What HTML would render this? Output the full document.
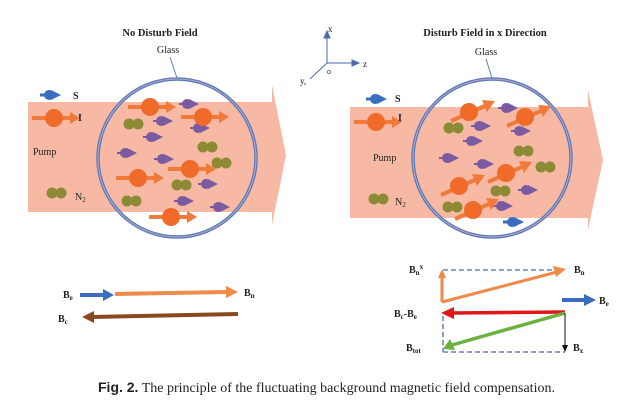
<!DOCTYPE html>
<html><head><meta charset="utf-8"><style>
html,body{margin:0;padding:0;background:#fff;width:627px;height:403px;overflow:hidden}
svg{display:block}
text{font-family:"Liberation Serif",serif;fill:#222}
</style></head><body>
<svg width="627" height="403" viewBox="0 0 627 403" xmlns="http://www.w3.org/2000/svg">
<defs>
<g id="pu"><path d="M-9,-1 L-4,-1 L-4,1 L-9,1Z" fill="#7a5aa0"/><circle cx="-1" cy="0" r="5" fill="#7a5aa0"/><path d="M1,-5 L11,0 L1,5Z" fill="#7a5aa0"/></g>
<g id="bl"><path d="M-10,-1.5 L-4,-1.5 L-4,1.5 L-10,1.5Z" fill="#3a6cc0"/><circle cx="-1" cy="0" r="5" fill="#3a6cc0"/><path d="M1,-5 L11,0 L1,5Z" fill="#3a6cc0"/></g>
<g id="n2"><circle cx="-4" cy="0" r="5.5" fill="#8d8a35"/><circle cx="5" cy="0" r="5.5" fill="#8d8a35"/></g>
<g id="oh"><line x1="-22" y1="0" x2="18" y2="0" stroke="#ef7a3a" stroke-width="4"/><path d="M16,-6 L26,0 L16,6Z" fill="#ef7a3a"/><circle r="9" fill="#f06a2a"/></g>
<g id="od"><line x1="-18" y1="9" x2="18" y2="-7" stroke="#ef7a3a" stroke-width="4"/><path d="M13,-12 L26,-11 L18,0Z" fill="#ef7a3a"/><circle r="9" fill="#f06a2a"/></g>
</defs>

<!-- Left panel -->
<rect x="28" y="102" width="245" height="110" fill="#f8b9a4"/>
<path d="M272,85 L286,155 L272,225Z" fill="#f8b9a4"/>
<circle cx="177" cy="158" r="79" fill="none" stroke="#5a7ab8" stroke-width="3.5"/>
<circle cx="177" cy="158" r="79" fill="none" stroke="#b6a8c8" stroke-width="1"/>
<text x="160" y="36" font-size="10.5" font-weight="bold" text-anchor="middle">No Disturb Field</text>
<text x="168" y="53" font-size="10" text-anchor="middle">Glass</text>
<line x1="170" y1="57" x2="177" y2="78" stroke="#5a7ab8" stroke-width="1"/>
<use href="#bl" x="50" y="95"/><text x="73" y="99" font-size="10" font-weight="bold">S</text>
<use href="#oh" x="54" y="118"/><text x="78" y="121" font-size="10" font-weight="bold">I</text>
<text x="33" y="155" font-size="10" fill="#8a5a4a">Pump</text>
<use href="#n2" x="56" y="193"/><text x="75" y="200" font-size="10">N<tspan font-size="7" dy="2">2</tspan></text>
<use href="#pu" x="188" y="104"/><use href="#pu" x="162" y="121"/><use href="#pu" x="199" y="128"/>
<use href="#pu" x="152" y="137"/><use href="#pu" x="126" y="153"/><use href="#pu" x="163" y="159"/>
<use href="#pu" x="207" y="184"/><use href="#pu" x="183" y="201"/><use href="#pu" x="219" y="207"/>
<use href="#n2" x="133" y="124"/><use href="#n2" x="207" y="147"/><use href="#n2" x="221" y="163"/>
<use href="#n2" x="181" y="185"/><use href="#n2" x="131" y="201"/>
<use href="#oh" x="150" y="107"/><use href="#oh" x="203" y="117"/><use href="#oh" x="190" y="169"/>
<use href="#oh" x="138" y="178"/><use href="#oh" x="171" y="217"/>

<!-- Axes -->
<g stroke="#4a6aa8" stroke-width="1" fill="#4a6aa8">
<line x1="327" y1="63" x2="327" y2="34"/><path d="M324,38 L327,31 L330,38Z"/>
<line x1="327" y1="63" x2="354" y2="63"/><path d="M352,60 L359,63 L352,66Z"/>
<line x1="327" y1="63" x2="310" y2="79"/>
</g>
<text x="328" y="32" font-size="9">x</text>
<text x="363" y="67" font-size="9">z</text>
<text x="327" y="74" font-size="8">o</text>
<text x="300" y="84" font-size="9">y,</text>

<!-- Right panel -->
<rect x="350" y="107" width="238" height="111" fill="#f8b9a4"/>
<path d="M588,90 L603,160 L588,230Z" fill="#f8b9a4"/>
<circle cx="492" cy="158" r="79" fill="none" stroke="#5a7ab8" stroke-width="3.5"/>
<circle cx="492" cy="158" r="79" fill="none" stroke="#b6a8c8" stroke-width="1"/>
<text x="485" y="36" font-size="10.5" font-weight="bold" text-anchor="middle">Disturb Field in x Direction</text>
<text x="486" y="55" font-size="10" text-anchor="middle">Glass</text>
<line x1="486" y1="59" x2="492" y2="78" stroke="#5a7ab8" stroke-width="1"/>
<use href="#bl" x="376" y="99"/><text x="395" y="102" font-size="10" font-weight="bold">S</text>
<use href="#oh" x="376" y="122"/><text x="398" y="121" font-size="10" font-weight="bold">I</text>
<text x="373" y="161" font-size="10" fill="#8a5a4a">Pump</text>
<use href="#n2" x="378" y="199"/><text x="395" y="205" font-size="10">N<tspan font-size="7" dy="2">2</tspan></text>
<use href="#pu" x="507" y="108"/><use href="#pu" x="480" y="126"/><use href="#pu" x="520" y="131"/>
<use href="#pu" x="472" y="141"/><use href="#pu" x="448" y="158"/><use href="#pu" x="483" y="164"/>
<use href="#pu" x="527" y="190"/><use href="#pu" x="502" y="206"/><use href="#bl" x="513" y="222"/>
<use href="#n2" x="453" y="128"/><use href="#n2" x="523" y="151"/><use href="#n2" x="545" y="167"/>
<use href="#n2" x="500" y="191"/><use href="#n2" x="452" y="207"/>
<use href="#od" x="469" y="112"/><use href="#od" x="525" y="117"/><use href="#od" x="506" y="173"/>
<use href="#od" x="459" y="186"/><use href="#od" x="473" y="210"/>

<!-- Bottom left vectors -->
<line x1="80" y1="295" x2="105" y2="295" stroke="#3a6cc0" stroke-width="4"/><path d="M103,289 L114,295 L103,301Z" fill="#3a6cc0"/>
<line x1="115" y1="294" x2="228" y2="292" stroke="#ef8a4a" stroke-width="4"/><path d="M226,286 L238,292 L226,298Z" fill="#ef8a4a"/>
<text x="63" y="298" font-size="10" font-weight="bold">B<tspan font-size="7" dy="2">e</tspan></text>
<text x="244" y="296" font-size="10" font-weight="bold">B<tspan font-size="7" dy="2">n</tspan></text>
<line x1="238" y1="314" x2="92" y2="317" stroke="#8a4a20" stroke-width="4"/><path d="M94,311 L82,317 L94,323Z" fill="#8a4a20"/>
<text x="58" y="322" font-size="10" font-weight="bold">B<tspan font-size="7" dy="2">c</tspan></text>

<!-- Bottom right vectors -->
<g stroke="#4a6aa8" stroke-width="1.3" stroke-dasharray="5,3" fill="none">
<line x1="443" y1="270" x2="562" y2="270"/>
<line x1="443" y1="316" x2="443" y2="352"/>
<line x1="443" y1="352" x2="565" y2="352"/>
</g>
<line x1="442" y1="302" x2="442" y2="276" stroke="#ef8a4a" stroke-width="3"/><path d="M438,278 L442,269 L446,278Z" fill="#ef8a4a"/>
<line x1="442" y1="302" x2="557" y2="272" stroke="#ef8a4a" stroke-width="3"/><path d="M553,266 L566,269 L556,277Z" fill="#ef8a4a"/>
<line x1="562" y1="300" x2="586" y2="300" stroke="#3a6cc0" stroke-width="4"/><path d="M584,294 L596,300 L584,306Z" fill="#3a6cc0"/>
<line x1="565" y1="312" x2="452" y2="313" stroke="#e01818" stroke-width="3.5"/><path d="M454,307 L441,313 L454,319Z" fill="#e01818"/>
<line x1="565" y1="313" x2="452" y2="345" stroke="#6cb040" stroke-width="3.5"/><path d="M450,339 L443,349 L455,350Z" fill="#6cb040"/>
<line x1="565" y1="313" x2="565" y2="346" stroke="#111" stroke-width="1"/><path d="M562,345 L565,352 L568,345Z" fill="#111"/>
<text x="409" y="273" font-size="10" font-weight="bold">B<tspan font-size="7" dy="2">n</tspan><tspan font-size="7" dy="-6">x</tspan></text>
<text x="574" y="273" font-size="10" font-weight="bold">B<tspan font-size="7" dy="2">n</tspan></text>
<text x="599" y="304" font-size="10" font-weight="bold">B<tspan font-size="7" dy="2">e</tspan></text>
<text x="394" y="317" font-size="10" font-weight="bold">B<tspan font-size="7" dy="2">c</tspan><tspan dy="-2">-B</tspan><tspan font-size="7" dy="2">e</tspan></text>
<text x="406" y="351" font-size="10" font-weight="bold">B<tspan font-size="7" dy="2">tot</tspan></text>
<text x="573" y="351" font-size="10" font-weight="bold">B<tspan font-size="7" dy="2">x</tspan></text>

<!-- Caption -->
<text x="98" y="392" font-size="14"><tspan font-family="Liberation Sans,sans-serif" font-weight="bold">Fig. 2.</tspan> The principle of the fluctuating background magnetic field compensation.</text>
</svg>
</body></html>
